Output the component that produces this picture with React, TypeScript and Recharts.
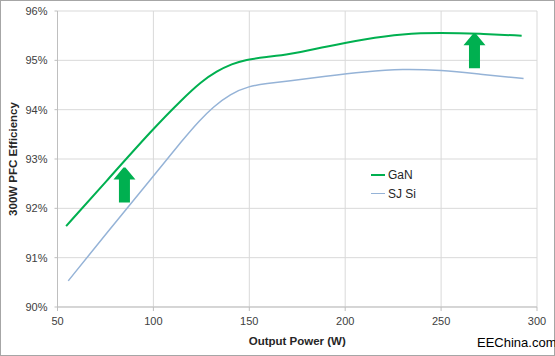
import {
  CartesianGrid,
  Line,
  LineChart,
  ReferenceDot,
  XAxis,
  YAxis,
} from 'recharts';

// values
const powerW = [54.5, 75, 100, 115, 125, 133, 141, 148, 159, 170, 190, 210, 230, 250, 270, 292];
const ganEff = [91.64, 92.53, 93.62, 94.21, 94.57, 94.78, 94.93, 95.01, 95.07, 95.11, 95.28, 95.43, 95.54, 95.56, 95.54, 95.5];
const siPowerW = [55.6, 75, 100, 115.5, 124, 131, 140, 150, 159, 170, 190, 210, 230, 250, 270, 293];
const siEff = [90.53, 91.47, 92.65, 93.4, 93.78, 94.05, 94.32, 94.48, 94.53, 94.58, 94.68, 94.77, 94.83, 94.8, 94.72, 94.63];
const xTicks = [50, 100, 150, 200, 250, 300];
const yTicks = [90, 91, 92, 93, 94, 95, 96];
const seriesNames = ['GaN', 'SJ Si'];
// improvement arrows (tip position)
const arrowX = [84.9, 267.4];
const arrowY = [92.83, 95.55];

const GREEN = '#00b050';
const BLUE = '#95b3d7';
const FONT = '"Liberation Sans", Arial, sans-serif';

const ganData = powerW.map((p, i) => ({ power: p, gan: ganEff[i] }));
const siData = siPowerW.map((p, i) => ({ power: p, si: siEff[i] }));

const Arrow = ({ cx, cy }: { cx?: number; cy?: number }) => {
  if (cx == null || cy == null) return null;
  const d = [
    `M${cx - 1},${cy}`,
    `L${cx + 1},${cy}`,
    `L${cx + 11},${cy + 12}`,
    `L${cx + 5.5},${cy + 12}`,
    `L${cx + 5.5},${cy + 35}`,
    `L${cx - 5.5},${cy + 35}`,
    `L${cx - 5.5},${cy + 12}`,
    `L${cx - 11},${cy + 12}`,
    'Z',
  ].join(' ');
  return <path d={d} fill={GREEN} />;
};

export default function App() {
  const legendItems = [
    { name: seriesNames[0], color: GREEN, w: 2 },
    { name: seriesNames[1], color: BLUE, w: 1.5 },
  ];
  return (
    <div
      style={{
        position: 'absolute',
        left: 0,
        top: 0,
        width: 553,
        height: 354,
        border: '1px solid #a6a6a6',
        background: '#fff',
      }}
    >
      <LineChart
        width={553}
        height={354}
        margin={{ top: 10, right: 17, left: 0, bottom: 0 }}
        style={{ fontFamily: FONT }}
      >
        <CartesianGrid stroke="#d9d9d9" strokeWidth={1} />
        <XAxis
          dataKey="power"
          type="number"
          domain={[50, 300]}
          ticks={xTicks}
          allowDuplicatedCategory={false}
          stroke="#bfbfbf"
          tickSize={4}
          tickMargin={6}
          tick={{ fill: '#404040', fontSize: 11 }}
          height={48}
          label={{
            value: 'Output Power (W)',
            position: 'insideBottom',
            offset: 10,
            style: { fill: '#262626', fontSize: 11.5, fontWeight: 'bold' },
          }}
        />
        <YAxis
          type="number"
          domain={[90, 96]}
          ticks={yTicks}
          tickFormatter={(v: number) => `${v}%`}
          stroke="#bfbfbf"
          tickSize={3}
          tickMargin={7}
          tick={{ fill: '#404040', fontSize: 11 }}
          width={56.5}
          label={{
            value: '300W PFC Efficiency',
            angle: -90,
            position: 'insideLeft',
            offset: 12,
            style: { fill: '#262626', fontSize: 11.5, fontWeight: 'bold', textAnchor: 'middle' },
          }}
        />
        <Line
          data={ganData}
          dataKey="gan"
          name={seriesNames[0]}
          type="basis"
          stroke={GREEN}
          strokeWidth={2}
          dot={false}
          isAnimationActive={false}
        />
        <Line
          data={siData}
          dataKey="si"
          name={seriesNames[1]}
          type="basis"
          stroke={BLUE}
          strokeWidth={1.5}
          dot={false}
          isAnimationActive={false}
        />
        {arrowX.map((x, i) => (
          <ReferenceDot
            key={i}
            x={x}
            y={arrowY[i]}
            r={0}
            ifOverflow="visible"
            shape={(p: any) => <Arrow cx={p.cx} cy={p.cy} />}
          />
        ))}
      </LineChart>
      <div
        style={{
          position: 'absolute',
          left: 370,
          top: 164,
          fontFamily: FONT,
          fontSize: 12,
          color: '#262626',
        }}
      >
        {legendItems.map((e) => (
          <div key={e.name} style={{ display: 'flex', alignItems: 'center', height: 19 }}>
            <span style={{ width: 14, height: e.w, background: e.color, marginRight: 3 }} />
            <span>{e.name}</span>
          </div>
        ))}
      </div>
      <div
        style={{
          position: 'absolute',
          left: 476,
          top: 334,
          fontFamily: FONT,
          fontSize: 13,
          color: '#000',
        }}
      >
        EEChina.com
      </div>
    </div>
  );
}
